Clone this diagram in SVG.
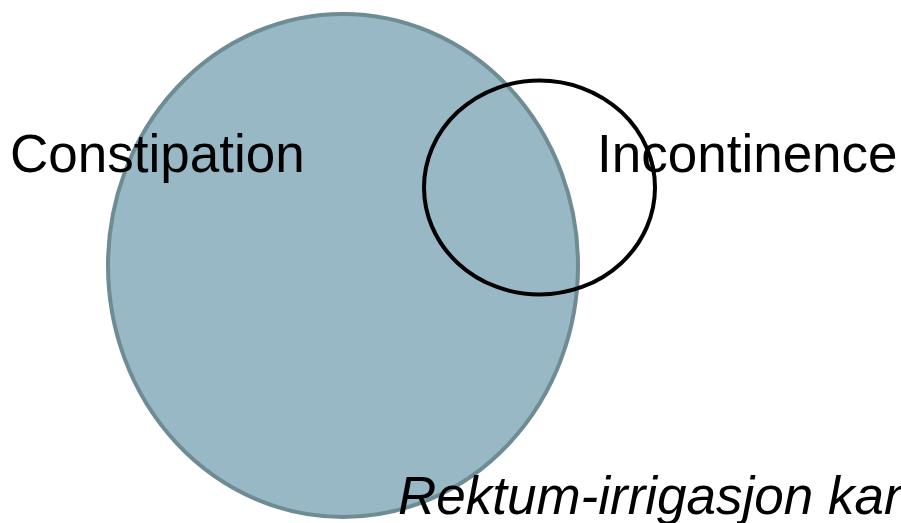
<svg xmlns="http://www.w3.org/2000/svg" width="901" height="523" viewBox="0 0 901 523">
<style>
.lbl{font-family:"Liberation Sans",Arial,sans-serif;font-size:53px;fill:#000}
</style>
<rect width="901" height="523" fill="#fff"/>
<g id="constipation-set">
<ellipse cx="343" cy="265.5" rx="235" ry="251.5" fill="#97b8c4" stroke="#6f8b94" stroke-width="4"/>
</g>
<g id="incontinence-set">
<ellipse cx="539.5" cy="187.5" rx="115.5" ry="107" fill="none" stroke="#000" stroke-width="4"/>
</g>
<g id="labels">
<text class="lbl" x="10" y="172">Constipation</text>
<text class="lbl" x="597" y="172">Incontinence</text>
<text class="lbl" x="398" y="514" font-style="italic">Rektum-irrigasjon kan</text>
</g>
</svg>
